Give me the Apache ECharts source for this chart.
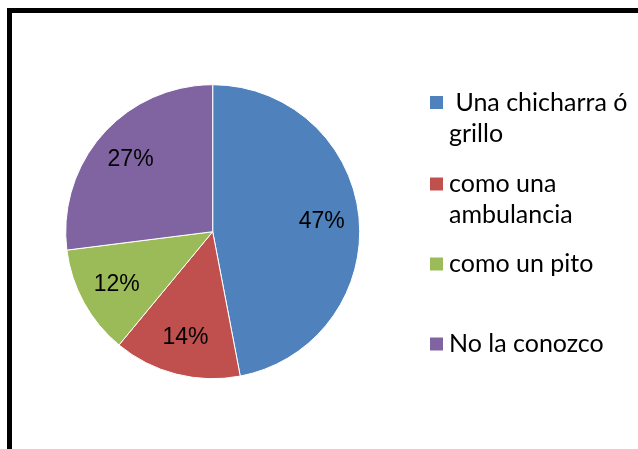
<!DOCTYPE html>
<html>
<head>
<meta charset="utf-8">
<script src="https://cdn.jsdelivr.net/npm/echarts@6/dist/echarts.min.js"></script>
<style>
    html, body { margin: 0; padding: 0; background: #fff; }
    #frame {
        position: absolute; left: 7px; top: 8px; width: 700px; height: 500px;
        border-left: 5px solid #000; border-top: 5px solid #000;
    }
    #chart { position: absolute; left: 0; top: 0; width: 638px; height: 449px; }
</style>
</head>
<body>
<div id="frame"></div>
<div id="chart"></div>
<script>
    // datos
    const categories = [' Una chicharra ó\ngrillo', 'como una\nambulancia', 'como un pito', 'No la conozco'];
    const values = [47, 14, 12, 27];
    const colors = ['#4F81BD', '#C0504D', '#9BBB59', '#8064A2'];

    const legendTops = [87, 168.5, 248.5, 328.5];
    const lineH = 31;

    const pieData = categories.map((name, i) => ({
        name: name,
        value: values[i],
        itemStyle: { color: colors[i] }
    }));

    // para dos líneas: cuadrado arriba, alineado con la primera línea
    const iconTop = 'path://M0,0H15V15H0ZM0,46H0.01V46.01H0Z';

    const legends = categories.map((name, i) => {
        const twoLines = name.indexOf('\n') >= 0;
        return {
            orient: 'vertical',
            left: 428,
            top: legendTops[i],
            padding: 0,
            icon: twoLines ? iconTop : 'rect',
            itemWidth: 15,
            itemHeight: twoLines ? 46 : 15,
            itemGap: 0,
            selectedMode: false,
            data: [name],
            textStyle: {
                fontFamily: 'Lato',
                fontSize: 25,
                lineHeight: lineH,
                color: '#000'
            }
        };
    });

    const chart = echarts.init(document.getElementById('chart'));
    chart.setOption({
        animation: false,
        color: colors,
        legend: legends,
        series: [
            {
                type: 'pie',
                center: [212.7, 231.7],
                radius: [0, 147],
                startAngle: 90,
                clockwise: true,
                silent: true,
                label: { show: false },
                labelLine: { show: false },
                itemStyle: { borderColor: '#fff', borderWidth: 1 },
                data: pieData
            },
            {
                // solo para colocar las etiquetas cerca de 3/4 del radio
                type: 'pie',
                center: [212.7, 231.7],
                radius: [66, 147],
                startAngle: 90,
                clockwise: true,
                silent: true,
                legendHoverLink: false,
                itemStyle: { color: 'rgba(0,0,0,0)', borderWidth: 0 },
                label: {
                    show: true,
                    position: 'inside',
                    formatter: p => p.value + '%',
                    fontFamily: 'Liberation Sans',
                    fontSize: 23,
                    color: '#000'
                },
                labelLine: { show: false },
                data: pieData.map(d => ({ name: d.name, value: d.value }))
            }
        ]
    });
</script>
</body>
</html>
